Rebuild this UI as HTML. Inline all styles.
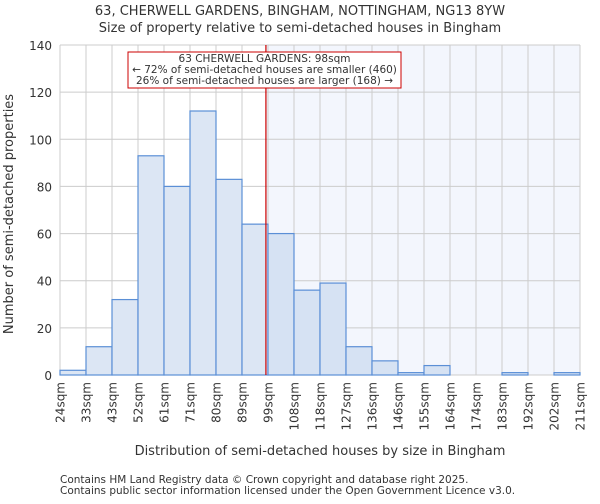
<!DOCTYPE html>
<html><head><meta charset="utf-8"><style>
body{margin:0;background:#fff;font-family:"DejaVu Sans","Liberation Sans",sans-serif}
text{font-family:"DejaVu Sans","Liberation Sans",sans-serif;fill:#333}
</style></head><body>
<svg id="chart" width="600" height="500" xmlns="http://www.w3.org/2000/svg">
<text x="300" y="15" font-size="13" text-anchor="middle">63, CHERWELL GARDENS, BINGHAM, NOTTINGHAM, NG13 8YW</text>
<text x="300" y="32" font-size="13" text-anchor="middle">Size of property relative to semi-detached houses in Bingham</text>
<g id="plot"></g>
<text x="320" y="455" font-size="13" text-anchor="middle">Distribution of semi-detached houses by size in Bingham</text>
<text transform="translate(13,214) rotate(-90)" font-size="13" text-anchor="middle">Number of semi-detached properties</text>
<text x="60" y="483" font-size="10.5">Contains HM Land Registry data © Crown copyright and database right 2025.</text>
<text x="60" y="494" font-size="10.5">Contains public sector information licensed under the Open Government Licence v3.0.</text>
</svg>
<script>
const binLabels=["24sqm","33sqm","43sqm","52sqm","61sqm","71sqm","80sqm","89sqm","99sqm","108sqm","118sqm","127sqm","136sqm","146sqm","155sqm","164sqm","174sqm","183sqm","192sqm","202sqm","211sqm"];
const counts=[2,12,32,93,80,112,83,64,60,36,39,12,6,1,4,0,0,1,0,1];
const yTicks=[0,20,40,60,80,100,120,140];
const markerBin=7.92;
const annotation=["63 CHERWELL GARDENS: 98sqm","← 72% of semi-detached houses are smaller (460)","26% of semi-detached houses are larger (168) →"];
const NS="http://www.w3.org/2000/svg";
const L=60,R=580,T=45,B=375;
const n=counts.length;
const x=i=>L+(R-L)*i/n;
const y=v=>B-(B-T)*v/140;
const g=document.getElementById('plot');
function mk(t,a,p){const e=document.createElementNS(NS,t);for(const k in a)e.setAttribute(k,a[k]);(p||g).appendChild(e);return e;}
const mx=x(markerBin);
let e=mk('rect',{x:mx,y:T,width:R-mx,height:B-T,fill:'#f3f6fd'});


for(let i=0;i<=n;i++){e=mk('line',{x1:x(i),x2:x(i),y1:T,y2:B,stroke:'#cccccc'});

}
yTicks.forEach(v=>{e=mk('line',{x1:L,x2:R,y1:y(v),y2:y(v),stroke:'#cccccc'});


e=mk('text',{x:L-8,y:y(v)+5,'font-size':12,'text-anchor':'end'});e.textContent=v;

});
counts.forEach((c,i)=>{e=mk('rect',{x:x(i),y:y(c),width:x(i+1)-x(i),height:B-y(c),fill:i>=8?'#d6e2f3':'#dce6f4',stroke:'#5b8fd6','stroke-width':1.2});

});
binLabels.forEach((l,i)=>{e=mk('text',{transform:`translate(${x(i)+4.5},382) rotate(-90)`,'font-size':12,'text-anchor':'end'});e.textContent=l;

});
e=mk('line',{x1:mx,x2:mx,y1:T,y2:B,stroke:'#cc0000','stroke-width':1.2});


e=mk('rect',{x:128,y:52,width:273,height:36,fill:'#fff',stroke:'#cc0000'});


annotation.forEach((t,k)=>{e=mk('text',{x:264.5,y:62+k*11,'font-size':10.5,'text-anchor':'middle'});e.textContent=t;

});
</script>
</body></html>
